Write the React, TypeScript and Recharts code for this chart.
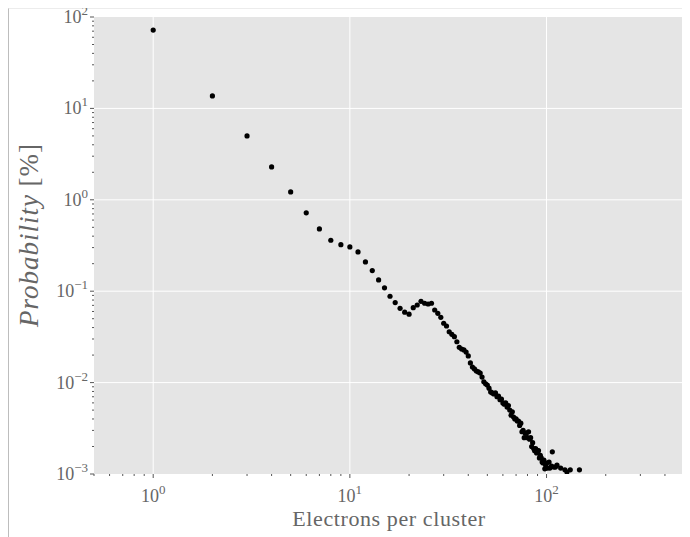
import { ScatterChart, Scatter, XAxis, YAxis, CartesianGrid, ReferenceLine } from 'recharts';

// electrons per cluster (x) and probability in % (y)
const electrons = [
  1, 2, 3, 4, 5, 6, 7, 8, 9, 10, 11, 12, 13, 14, 15, 16, 17, 18, 19, 20,
  21, 22, 23, 24, 25, 26, 27, 28, 29, 30, 31, 32, 33, 34, 35, 36, 37, 38, 39, 40,
  41, 42, 43, 44, 45, 46, 47, 48, 49, 50, 51, 52, 53, 54, 55, 56, 57, 58, 59, 60,
  61, 62, 63, 64, 65, 66, 67, 68, 69, 70, 71, 72, 73, 74, 75, 76, 77, 78, 79, 80,
  81, 82, 83, 84, 85, 86, 87, 88, 89, 90, 91, 92, 93, 94, 95, 96, 97, 98, 99, 100,
  101, 103, 104, 106, 107, 109, 111, 113, 118, 124, 127, 132, 147,
];
const probability = [
  72, 13.7, 5.0, 2.29, 1.22, 0.72, 0.48, 0.361, 0.323, 0.305,
  0.269, 0.209, 0.168, 0.133, 0.109, 0.088, 0.075, 0.065, 0.059, 0.056,
  0.066, 0.0706, 0.0775, 0.0738, 0.0724, 0.0738, 0.0623, 0.0573, 0.0518, 0.0446,
  0.0416, 0.036, 0.0337, 0.0318, 0.028, 0.0243, 0.0233, 0.0228, 0.0216, 0.0196,
  0.0164, 0.0148, 0.0141, 0.0134, 0.0131, 0.0127, 0.0115, 0.0102, 0.0097, 0.0094,
  0.0087, 0.0079, 0.0077, 0.0075, 0.0077, 0.007, 0.0071, 0.0065, 0.0066, 0.006,
  0.0058, 0.006, 0.0054, 0.0056, 0.005, 0.0044, 0.0048, 0.0042, 0.004, 0.004,
  0.0038, 0.0038, 0.0034, 0.0036, 0.0029, 0.003, 0.0025, 0.0028, 0.0028, 0.0025,
  0.0029, 0.0024, 0.0025, 0.002, 0.0022, 0.0019, 0.0018, 0.0019, 0.0017, 0.0018,
  0.0018, 0.0015, 0.0016, 0.0015, 0.00135, 0.00132, 0.00142, 0.00114, 0.00125, 0.00132,
  0.00116, 0.00135, 0.00116, 0.00122, 0.00175, 0.00119, 0.00119, 0.00125, 0.00116, 0.00111,
  0.00105, 0.00111, 0.00111,
];

const xTicks = [
  0.5, 0.6, 0.7, 0.8, 0.9, 1, 2, 3, 4, 5, 6, 7, 8, 9, 10,
  20, 30, 40, 50, 60, 70, 80, 90, 100, 200, 300, 400, 500,
];
const yTicks = [
  0.001, 0.002, 0.003, 0.004, 0.005, 0.006, 0.007, 0.008, 0.009,
  0.01, 0.02, 0.03, 0.04, 0.05, 0.06, 0.07, 0.08, 0.09,
  0.1, 0.2, 0.3, 0.4, 0.5, 0.6, 0.7, 0.8, 0.9,
  1, 2, 3, 4, 5, 6, 7, 8, 9,
  10, 20, 30, 40, 50, 60, 70, 80, 90, 100,
];
const xGrid = [1, 10, 100];
const yGrid = [0.01, 0.1, 1, 10];

const data = electrons.map((x, i) => ({ x, y: probability[i] }));

const FONT = '"Liberation Serif", "DejaVu Serif", serif';
const TICK_COLOR = '#555';
const TEXT_COLOR = '#666';

const isMajor = (v: number) => Math.abs(Math.log10(v) - Math.round(Math.log10(v))) < 1e-6;
const expText = (v: number) => {
  const e = Math.round(Math.log10(v));
  return e < 0 ? '\u2212' + Math.abs(e) : String(e);
};

const PowLabel = ({ x, y, v, anchor }: any) => (
  <text x={x} y={y} textAnchor={anchor} fontFamily={FONT} fontSize={18} fill={TEXT_COLOR}>
    10
    <tspan dy={-8} fontSize={13}>{expText(v)}</tspan>
  </text>
);

const BottomTick = ({ x, y, payload }: any) => {
  const major = isMajor(payload.value);
  return (
    <g>
      <line x1={x} x2={x} y1={y} y2={y + (major ? 4 : 2)} stroke={TICK_COLOR} />
      {major && <PowLabel x={x} y={y + 28} v={payload.value} anchor="middle" />}
    </g>
  );
};

const TopTick = ({ x, y, payload }: any) => {
  const major = isMajor(payload.value);
  return <line x1={x} x2={x} y1={y} y2={y - (major ? 4 : 2)} stroke={TICK_COLOR} />;
};

const LeftTick = ({ x, y, payload }: any) => {
  const major = isMajor(payload.value);
  return (
    <g>
      <line x1={x} x2={x - (major ? 4 : 2)} y1={y} y2={y} stroke={TICK_COLOR} />
      {major && <PowLabel x={x - 6} y={y + 6} v={payload.value} anchor="end" />}
    </g>
  );
};

const RightTick = ({ x, y, payload }: any) => {
  const major = isMajor(payload.value);
  return <line x1={x} x2={x + (major ? 4 : 2)} y1={y} y2={y} stroke={TICK_COLOR} />;
};

const Dot = (props: any) => <circle cx={props.cx} cy={props.cy} r={2.6} fill="#000" />;

export default function App() {
  const W = 681;
  const H = 537; // chart starts 9px above the framed box so the top label has room
  return (
    <div
      style={{
        position: 'relative',
        width: W,
        height: 528,
        borderLeft: '1px solid #bdbdbd',
        borderTop: '1px solid #ececec',
      }}
    >
      <div style={{ position: 'absolute', left: 0, top: -9 }}>
        <ScatterChart width={W} height={H} margin={{ top: 16, right: 5, bottom: 3, left: 5 }}>
          <CartesianGrid horizontal={false} vertical={false} fill="#E5E5E5" fillOpacity={1} />
          <XAxis
            dataKey="x"
            type="number"
            scale="log"
            domain={[0.5, 500]}
            allowDataOverflow
            ticks={xTicks}
            interval={0}
            tick={<BottomTick />}
            tickSize={0}
            tickMargin={0}
            tickLine={false}
            axisLine={false}
            height={60}
          />
          <XAxis
            xAxisId="top"
            orientation="top"
            type="number"
            scale="log"
            domain={[0.5, 500]}
            allowDataOverflow
            ticks={xTicks}
            interval={0}
            tick={<TopTick />}
            tickSize={0}
            tickMargin={0}
            tickLine={false}
            axisLine={false}
            height={1}
          />
          <YAxis
            dataKey="y"
            type="number"
            scale="log"
            domain={[0.001, 100]}
            allowDataOverflow
            ticks={yTicks}
            interval={0}
            tick={<LeftTick />}
            tickSize={0}
            tickMargin={0}
            tickLine={false}
            axisLine={false}
            width={80}
          />
          <YAxis
            yAxisId="right"
            orientation="right"
            type="number"
            scale="log"
            domain={[0.001, 100]}
            allowDataOverflow
            ticks={yTicks}
            interval={0}
            tick={<RightTick />}
            tickSize={0}
            tickMargin={0}
            tickLine={false}
            axisLine={false}
            width={1}
          />
          {xGrid.map((v) => (
            <ReferenceLine key={'x' + v} x={v} stroke="#fff" strokeWidth={1} />
          ))}
          {yGrid.map((v) => (
            <ReferenceLine key={'y' + v} y={v} stroke="#fff" strokeWidth={1} />
          ))}
          <Scatter data={data} shape={<Dot />} isAnimationActive={false} />
        </ScatterChart>
      </div>
      <svg
        width={W}
        height={528}
        style={{ position: 'absolute', left: 0, top: 0, pointerEvents: 'none' }}
      >
        <text
          x={380}
          y={517}
          textAnchor="middle"
          fontFamily={FONT}
          fontSize={22}
          letterSpacing={0.6}
          fill={TEXT_COLOR}
        >
          Electrons per cluster
        </text>
        <text
          transform="translate(29, 226) rotate(-90)"
          textAnchor="middle"
          fontFamily={FONT}
          fontSize={27}
          letterSpacing={1}
          fill={TEXT_COLOR}
        >
          <tspan fontStyle="italic">Probability</tspan>
          <tspan> [%]</tspan>
        </text>
      </svg>
    </div>
  );
}
